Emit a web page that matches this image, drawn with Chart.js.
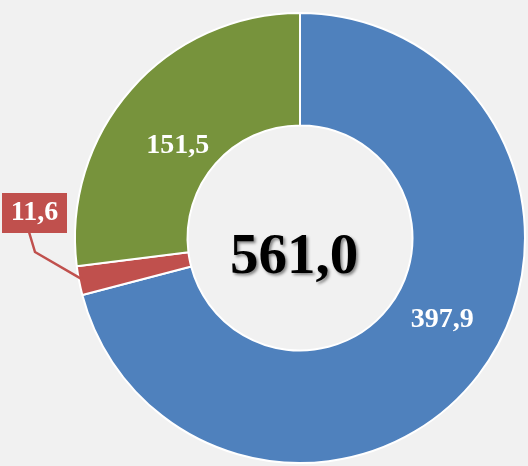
<!DOCTYPE html>
<html>
<head>
<meta charset="utf-8">
<script src="https://cdn.jsdelivr.net/npm/chart.js@4.4.0/dist/chart.umd.min.js"></script>
<style>
  html, body { margin: 0; padding: 0; background: #f1f1f1; }
  #wrap { width: 528px; height: 466px; position: relative; }
</style>
</head>
<body>
<div id="wrap"><canvas id="grafico" width="528" height="466"></canvas></div>
<script>
// dados do gráfico
const categorias = ['Série A', 'Série B', 'Série C'];
const valores = [397.9, 11.6, 151.5];
const cores = ['#4F81BD', '#C0504D', '#77933C'];

const fmt = (v) => v.toFixed(1).replace('.', ',');
const total = valores.reduce((a, b) => a + b, 0);

// posição dos rótulos dentro de cada fatia (fração do ângulo, fração do anel)
const posAngulo = [0.47, 0.5, 0.454];
const posRaio = [0.46, 0.5, 0.36];

const rotulosPlugin = {
    id: 'rotulos',
    afterDatasetsDraw(chart) {
        const ctx = chart.ctx;
        const arcos = chart.getDatasetMeta(0).data;
        ctx.save();
        ctx.font = 'bold 28px "Liberation Serif", "Times New Roman", serif';
        ctx.textAlign = 'center';
        ctx.textBaseline = 'middle';

        arcos.forEach((arco, i) => {
            const { x, y, startAngle, endAngle, innerRadius, outerRadius } = arco.getProps(
                ['x', 'y', 'startAngle', 'endAngle', 'innerRadius', 'outerRadius'], true);
            const texto = fmt(valores[i]);

            if (i === 1) {
                // fatia pequena: rótulo fora com linha de chamada
                const ang = (startAngle + endAngle) / 2;
                const ex = x + Math.cos(ang) * (outerRadius - 4);
                const ey = y + Math.sin(ang) * (outerRadius - 4);
                ctx.strokeStyle = cores[1];
                ctx.lineWidth = 2.5;
                ctx.beginPath();
                ctx.moveTo(29, 232);
                ctx.lineTo(35, 252);
                ctx.lineTo(ex, ey);
                ctx.stroke();
                ctx.fillStyle = cores[1];
                ctx.fillRect(2, 193, 65, 40);
                ctx.fillStyle = '#ffffff';
                ctx.fillText(texto, 34.5, 213);
                return;
            }

            const ang = startAngle + (endAngle - startAngle) * posAngulo[i];
            const r = innerRadius + (outerRadius - innerRadius) * posRaio[i];
            ctx.fillStyle = '#ffffff';
            ctx.fillText(texto, x + Math.cos(ang) * r, y + Math.sin(ang) * r);
        });

        // total no centro
        const c = arcos[0];
        ctx.font = 'bold 57px "Liberation Serif", "Times New Roman", serif';
        ctx.textBaseline = 'alphabetic';
        ctx.shadowColor = 'rgba(0,0,0,0.45)';
        ctx.shadowOffsetX = 2;
        ctx.shadowOffsetY = 2;
        ctx.shadowBlur = 3;
        ctx.fillStyle = '#000000';
        ctx.fillText(fmt(total), c.x - 6, c.y + 35);
        ctx.restore();
    }
};

new Chart(document.getElementById('grafico'), {
    type: 'doughnut',
    data: {
        labels: categorias,
        datasets: [{
            data: valores,
            backgroundColor: cores,
            borderColor: '#ffffff',
            borderWidth: 2,
            hoverOffset: 0,
            offset: 0
        }]
    },
    options: {
        responsive: false,
        animation: false,
        cutout: '50%',
        layout: { padding: { left: 74, right: 2, top: 12, bottom: 2 } },
        plugins: {
            legend: { display: false },
            tooltip: { enabled: false }
        }
    },
    plugins: [rotulosPlugin]
});
</script>
</body>
</html>
